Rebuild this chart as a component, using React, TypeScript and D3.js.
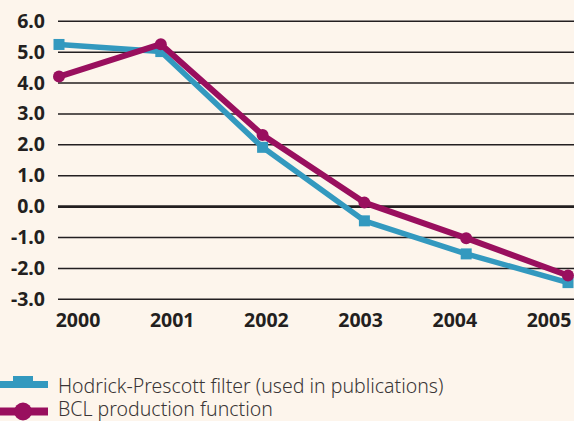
import React from "react";
import * as d3 from "d3";

const years = ["2000", "2001", "2002", "2003", "2004", "2005"];
const hpValues = [5.25, 5.02, 1.92, -0.46, -1.53, -2.46];
const bclValues = [4.21, 5.26, 2.32, 0.13, -1.02, -2.23];
const yTicks = [6, 5, 4, 3, 2, 1, 0, -1, -2, -3];
const legendLabels = ["Hodrick-Prescott filter (used in publications)", "BCL production function"];

const W = 574;
const H = 421;
const BLUE = "#3399bf";
const PURPLE = "#990f5e";
const BG = "#fdf5ec";
const INK = "#231f20";

export default function App() {
  const x = d3.scalePoint<string>().domain(years).range([59, 568]);
  const xLabel = d3.scalePoint<string>().domain(years).range([78, 549]);
  const y = d3.scaleLinear().domain([-3, 6]).range([299.3, 21.3]);
  const line = d3
    .line<number>()
    .x((_, i) => x(years[i]) as number)
    .y((d) => y(d));

  return (
    <svg
      width={W}
      height={H}
      style={{ position: "absolute", left: 0, top: 0, background: BG }}
      fontFamily="'Noto Sans', sans-serif"
    >
      <rect width={W} height={H} fill={BG} />
      {yTicks.map((t) => (
        <g key={t}>
          <line
            x1={58}
            x2={W}
            y1={y(t)}
            y2={y(t)}
            stroke={INK}
            strokeWidth={t === 0 ? 2.6 : 1.5}
          />
          <text
            x={45}
            y={y(t) + 6.5}
            textAnchor="end"
            fontSize={19.5}
            fontWeight="bold"
            fill={INK}
          >
            {t.toFixed(1)}
          </text>
        </g>
      ))}
      {years.map((yr) => (
        <text
          key={yr}
          x={xLabel(yr)}
          y={327}
          textAnchor="middle"
          fontSize={19.5}
          fontWeight="bold"
          fill={INK}
        >
          {yr}
        </text>
      ))}
      <path d={line(hpValues) || ""} fill="none" stroke={BLUE} strokeWidth={5.5} strokeLinejoin="round" />
      {hpValues.map((v, i) => (
        <rect
          key={i}
          x={(x(years[i]) as number) - 5.5}
          y={y(v) - 5.5}
          width={11}
          height={11}
          fill={BLUE}
        />
      ))}
      <path d={line(bclValues) || ""} fill="none" stroke={PURPLE} strokeWidth={6} strokeLinejoin="round" />
      {bclValues.map((v, i) => (
        <circle key={i} cx={x(years[i]) as number} cy={y(v)} r={6} fill={PURPLE} />
      ))}
      <g>
        <line x1={0} x2={48} y1={384.5} y2={384.5} stroke={BLUE} strokeWidth={7} />
        <rect x={13} y={376} width={20} height={12} fill={BLUE} />
        <text x={58} y={392.5} fontSize={19.5} fill="#3a3536" fontWeight={300}>
          {legendLabels[0]}
        </text>
        <line x1={0} x2={48} y1={411.5} y2={411.5} stroke={PURPLE} strokeWidth={8} />
        <circle cx={23} cy={411.5} r={9} fill={PURPLE} />
        <text x={58} y={416} fontSize={19.5} fill="#3a3536" fontWeight={300}>
          {legendLabels[1]}
        </text>
      </g>
    </svg>
  );
}
